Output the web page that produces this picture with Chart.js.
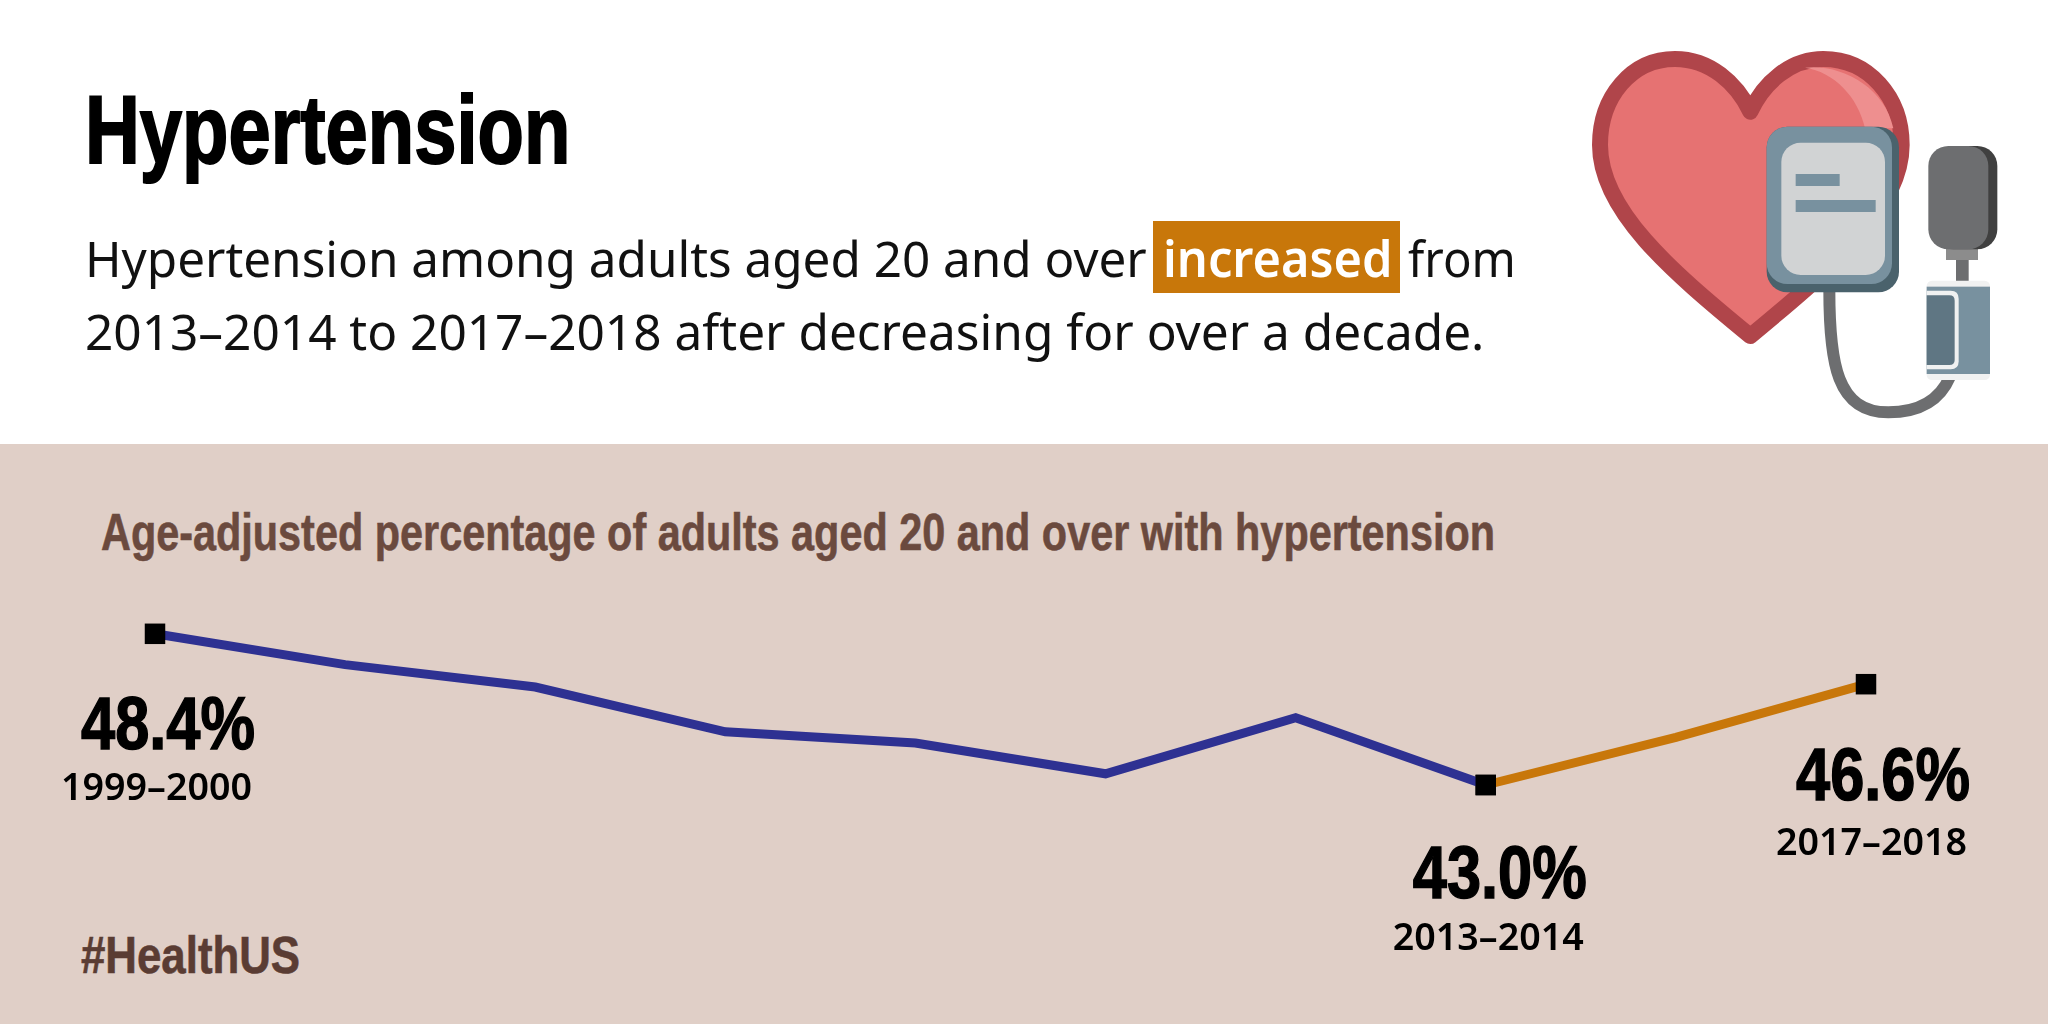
<!DOCTYPE html>
<html>
<head>
<meta charset="utf-8">
<script src="https://cdn.jsdelivr.net/npm/chart.js@4"></script>
<style>
  html, body { margin: 0; padding: 0; background: #fff; }
  #page { position: relative; width: 2048px; height: 1024px; overflow: hidden; background: #fff; }
  #band { position: absolute; left: 0; top: 444px; width: 2048px; height: 580px; background: #e0cfc7; }
  #chart { position: absolute; left: 0; top: 444px; }
  #icon { position: absolute; left: 1560px; top: 30px; }
  .txt { position: absolute; white-space: nowrap; line-height: 1; transform-origin: left top; }
  .narrow { font-family: "Liberation Sans Narrow", "Liberation Sans", sans-serif; font-weight: 700; -webkit-text-stroke: 0.6px currentColor; }
  .body { font-family: "Noto Sans", sans-serif; font-size: 50px; color: #111; }
  #hl { position: absolute; left: 1153px; top: 221px; width: 247px; height: 72px; background: #c8770a; }
</style>
</head>
<body>
<div id="page">
  <div id="band"></div>
  <div id="hl"></div>

  <div class="txt narrow" data-w="485" style="left:85px;top:82px;font-size:96px;color:#000;-webkit-text-stroke-width:2px">Hypertension</div>
  <div class="txt body" data-w="1062" style="left:85px;top:233px">Hypertension among adults aged 20 and over</div>
  <div class="txt body" data-w="230" style="left:1163px;top:233px;color:#fff;font-weight:600">increased</div>
  <div class="txt body" data-w="108" style="left:1408px;top:233px">from</div>
  <div class="txt body" data-w="1399" style="left:85px;top:306px">2013–2014 to 2017–2018 after decreasing for over a decade.</div>
  <div class="txt narrow" data-w="1394" style="left:101px;top:506px;font-size:52px;color:#6b4a3e">Age-adjusted percentage of adults aged 20 and over with hypertension</div>
  <div class="txt narrow" data-w="219" style="left:81px;top:929px;font-size:52px;color:#5a3c33">#HealthUS</div>

  <canvas id="chart" width="2048" height="580"></canvas>

  <svg id="icon" width="460" height="410" viewBox="0 0 1380 1230">
    <!-- heart -->
    <path d="M571 245 C530 160 450 87 345 87 C215 87 120 200 120 345 C120 540 330 720 571 918 C810 720 1025 540 1025 345 C1025 200 925 87 790 87 C690 87 610 160 571 245 Z"
      fill="#e67272" stroke="#b0454a" stroke-width="48" stroke-linejoin="round"/>
    <path d="M735 113 C840 100 975 170 1000 295 L915 295 C895 200 820 125 735 113 Z" fill="#ee8f8f"/>
    <!-- tube -->
    <path d="M808 780 C808 1000 830 1147 985 1147 C1080 1147 1140 1110 1170 1040" fill="none" stroke="#6d6e70" stroke-width="36"/>
    <!-- monitor -->
    <rect x="620" y="290" width="397" height="497" rx="62" fill="#4a626c"/>
    <rect x="620" y="290" width="376" height="472" rx="62" fill="#78919f"/>
    <rect x="664" y="338" width="311" height="397" rx="58" fill="#d1d3d4"/>
    <rect x="707" y="432" width="132" height="36" fill="#78919f"/>
    <rect x="707" y="510" width="240" height="36" fill="#78919f"/>
    <!-- bulb -->
    <rect x="1188" y="680" width="38" height="80" fill="#6d6e70"/>
    <rect x="1158" y="650" width="96" height="40" fill="#8c8c8c"/>
    <rect x="1120" y="348" width="192" height="310" rx="60" fill="#404040"/>
    <rect x="1105" y="348" width="180" height="310" rx="60" fill="#6d6e70"/>
    <!-- cuff -->
    <rect x="1100" y="752" width="190" height="298" rx="16" fill="#f0f1f1"/>
    <rect x="1100" y="770" width="190" height="262" fill="#78919f"/>
    <path d="M1100 782 H1172 Q1196 782 1196 806 V994 Q1196 1018 1172 1018 H1100 Z" fill="#f0f1f1"/>
    <path d="M1100 796 H1168 Q1184 796 1184 812 V990 Q1184 1005 1168 1005 H1100 Z" fill="#5f7683"/>
  </svg>
</div>

<script>
const categories = ["1999–2000", "2001–2002", "2003–2004", "2005–2006", "2007–2008",
                    "2009–2010", "2011–2012", "2013–2014", "2015–2016", "2017–2018"];
const decreasingValues = [48.4, 47.3, 46.5, 44.9, 44.5, 43.4, 45.4, 43.0, null, null];
const increasingValues = [null, null, null, null, null, null, null, 43.0, 44.7, 46.6];
const markedIndexes = [0, 7, 9];
const valueLabels = ["48.4%", "43.0%", "46.6%"];
const periodLabels = ["1999–2000", "2013–2014", "2017–2018"];

// squeeze html text to the measured width of the original
document.querySelectorAll(".txt").forEach((el) => {
  const target = Number(el.dataset.w);
  el.style.transform = "scaleX(" + target / el.offsetWidth + ")";
});

function fitText(ctx, text, right, baseline, width, stroke) {
  const scale = width / ctx.measureText(text).width;
  ctx.save();
  ctx.translate(right - width, baseline);
  ctx.scale(scale, 1);
  ctx.fillText(text, 0, 0);
  if (stroke) {
    ctx.lineWidth = stroke;
    ctx.strokeStyle = ctx.fillStyle;
    ctx.strokeText(text, 0, 0);
  }
  ctx.restore();
}

// value + period text under each marked point
const calloutPlugin = {
  id: "callouts",
  afterDatasetsDraw(chart) {
    const ctx = chart.ctx;
    const x = chart.scales.x;
    const y = chart.scales.y;
    const offsets = [
      { right: 100, value: 115, period: 166 },
      { right: 101, value: 113, period: 165 },
      { right: 104, value: 116, period: 171 },
    ];
    ctx.save();
    ctx.fillStyle = "#000";
    ctx.textAlign = "left";
    markedIndexes.forEach((idx, i) => {
      const px = x.getPixelForValue(idx);
      const v = decreasingValues[idx] !== null ? decreasingValues[idx] : increasingValues[idx];
      const py = y.getPixelForValue(v);
      ctx.font = '700 74px "Liberation Sans Narrow", "Liberation Sans", sans-serif';
      fitText(ctx, valueLabels[i], px + offsets[i].right, py + offsets[i].value, 174, 1.5);
      ctx.font = '600 37px "Noto Sans", sans-serif';
      fitText(ctx, periodLabels[i], px + offsets[i].right - 3, py + offsets[i].period, 191);
    });
    ctx.restore();
  },
};

function markerRadius(ctx) {
  return markedIndexes.includes(ctx.dataIndex) ? 14.5 : 0;
}

new Chart(document.getElementById("chart"), {
  type: "line",
  data: {
    labels: categories,
    datasets: [
      {
        data: decreasingValues,
        borderColor: "#2e3192",
        borderWidth: 9,
        borderJoinStyle: "miter",
        tension: 0,
        pointStyle: "rect",
        pointRadius: markerRadius,
        pointBackgroundColor: "#000",
        pointBorderWidth: 0,
        clip: false,
      },
      {
        data: increasingValues,
        borderColor: "#c8770a",
        borderWidth: 9,
        borderJoinStyle: "miter",
        tension: 0,
        pointStyle: "rect",
        pointRadius: markerRadius,
        pointBackgroundColor: "#000",
        pointBorderWidth: 0,
        clip: false,
      },
    ],
  },
  options: {
    responsive: false,
    animation: false,
    layout: { padding: { left: 155, right: 182, top: 145, bottom: 155 } },
    plugins: { legend: { display: false }, tooltip: { enabled: false } },
    scales: {
      x: { display: false, offset: false },
      y: { display: false, min: 40, max: 50 },
    },
  },
  plugins: [calloutPlugin],
});
</script>
</body>
</html>
